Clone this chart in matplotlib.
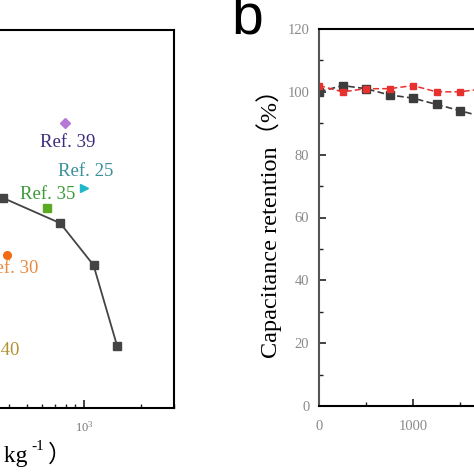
import matplotlib
matplotlib.use("Agg")
import matplotlib.pyplot as plt
from matplotlib.ticker import FixedLocator

plt.rcParams['font.family'] = ['Liberation Serif', 'Noto Sans CJK SC', 'DejaVu Serif']

# panel a: Ragone plot (power density vs energy density)
power = [150, 375, 750, 1125, 1500]
energy = [13.3, 12.9, 9.5, 5.7, 2.13]

refs = ["Ref. 39", "Ref. 25", "Ref. 35", "Ref. 30", "Ref. 40"]
ref_power = [798, 1006, 641, 394, 316]
ref_energy = [32.2, 14.6, 11.4, 6.45, 2.38]
ref_markers = ["D", ">", "s", "o", "o"]
ref_colors = ["#b678d6", "#1fb8c9", "#5aab22", "#f26b12", "#b39232"]
ref_text_colors = ["#3e2c7e", "#3a9097", "#3c9a36", "#e98a3e", "#b39232"]
ref_offsets = [(2, -14), (1, 12), (0, 10), (2, -10), (2, -10)]

# panel b: cycling stability
cycles = [0, 250, 500, 750, 1000, 1250, 1500, 1750]
retention_black = [100, 102, 101, 99, 98, 96, 94, 92]
retention_red = [102, 100, 101, 101, 102, 100, 100, 101]

W = 474.0
fig = plt.figure(figsize=(4.74, 4.74), dpi=100)

ax1 = fig.add_axes([-294 / W, (W - 408) / W, 468 / W, 378 / W])
ax1.set_xscale('log')
ax1.set_yscale('log')
ax1.set_xlim(10, 3000)
ax1.set_ylim(1, 100)
ax1.plot(power, energy, '-s', color='#444444', lw=1.3, ms=5.5)
for i in range(len(refs)):
    ax1.plot(ref_power[i], ref_energy[i], ref_markers[i], color=ref_colors[i], ms=5.5)
    ax1.annotate(refs[i], (ref_power[i], ref_energy[i]), xytext=ref_offsets[i],
                 textcoords='offset points', ha='center', va='center',
                 color=ref_text_colors[i], fontsize=13.5)
ax1.tick_params(which='both', direction='in', top=False, right=False, colors='#222222')
ax1.tick_params(which='major', length=6, width=1.2, labelsize=9, labelcolor='#777777', pad=9)
ax1.tick_params(which='minor', length=3, width=1.0)
ax1.set_yticks([])
ax1.set_yticks([], minor=True)
for s in ax1.spines.values():
    s.set_linewidth(1.5)

# x label of panel a, built in pieces: "Power density（W kg-1）"
fig.text(28 / W, (W - 462) / W, "Power density（W kg", ha='right', va='baseline', fontsize=17)
fig.text(31 / W, (W - 450) / W, "-1", ha='left', va='baseline', fontsize=11)
fig.text(48 / W, (W - 462) / W, "）", ha='left', va='baseline', fontsize=17)

# panel b
ax2 = fig.add_axes([319 / W, (W - 406) / W, 470 / W, 377 / W])
ax2.plot(cycles, retention_black, '--s', color='#3c3c3c', lw=1.2, ms=5.5, dashes=(4, 2))
ax2.plot(cycles, retention_red, '--s', color='#e8302f', lw=1.1, ms=5, dashes=(4, 2))
ax2.set_xlim(0, 5000)
ax2.set_ylim(0, 120)
ax2.set_yticks(range(0, 121, 20))
ax2.yaxis.set_minor_locator(FixedLocator(range(10, 120, 20)))
ax2.set_xticks(range(0, 5001, 1000))
ax2.xaxis.set_minor_locator(FixedLocator(range(500, 5000, 1000)))
ax2.tick_params(which='both', direction='in', top=False, right=False, colors='#222222')
ax2.tick_params(which='major', length=5, width=1.2, labelsize=10.5, labelcolor='#8a8a8a')
ax2.tick_params(axis='x', which='major', pad=10)
ax2.tick_params(axis='y', which='major', pad=7)
ax2.tick_params(which='minor', length=3, width=1.0)
for s in ax2.spines.values():
    s.set_linewidth(1.5)
ax2.spines['left'].set_color('#555555')
ax2.set_ylabel("Capacitance retention（%）", fontsize=17.5, labelpad=4)

fig.text(231 / W, (W - 34) / W, "b", family='Liberation Sans', fontsize=41,
         ha='left', va='baseline')

fig.savefig("out.png", dpi=100)
